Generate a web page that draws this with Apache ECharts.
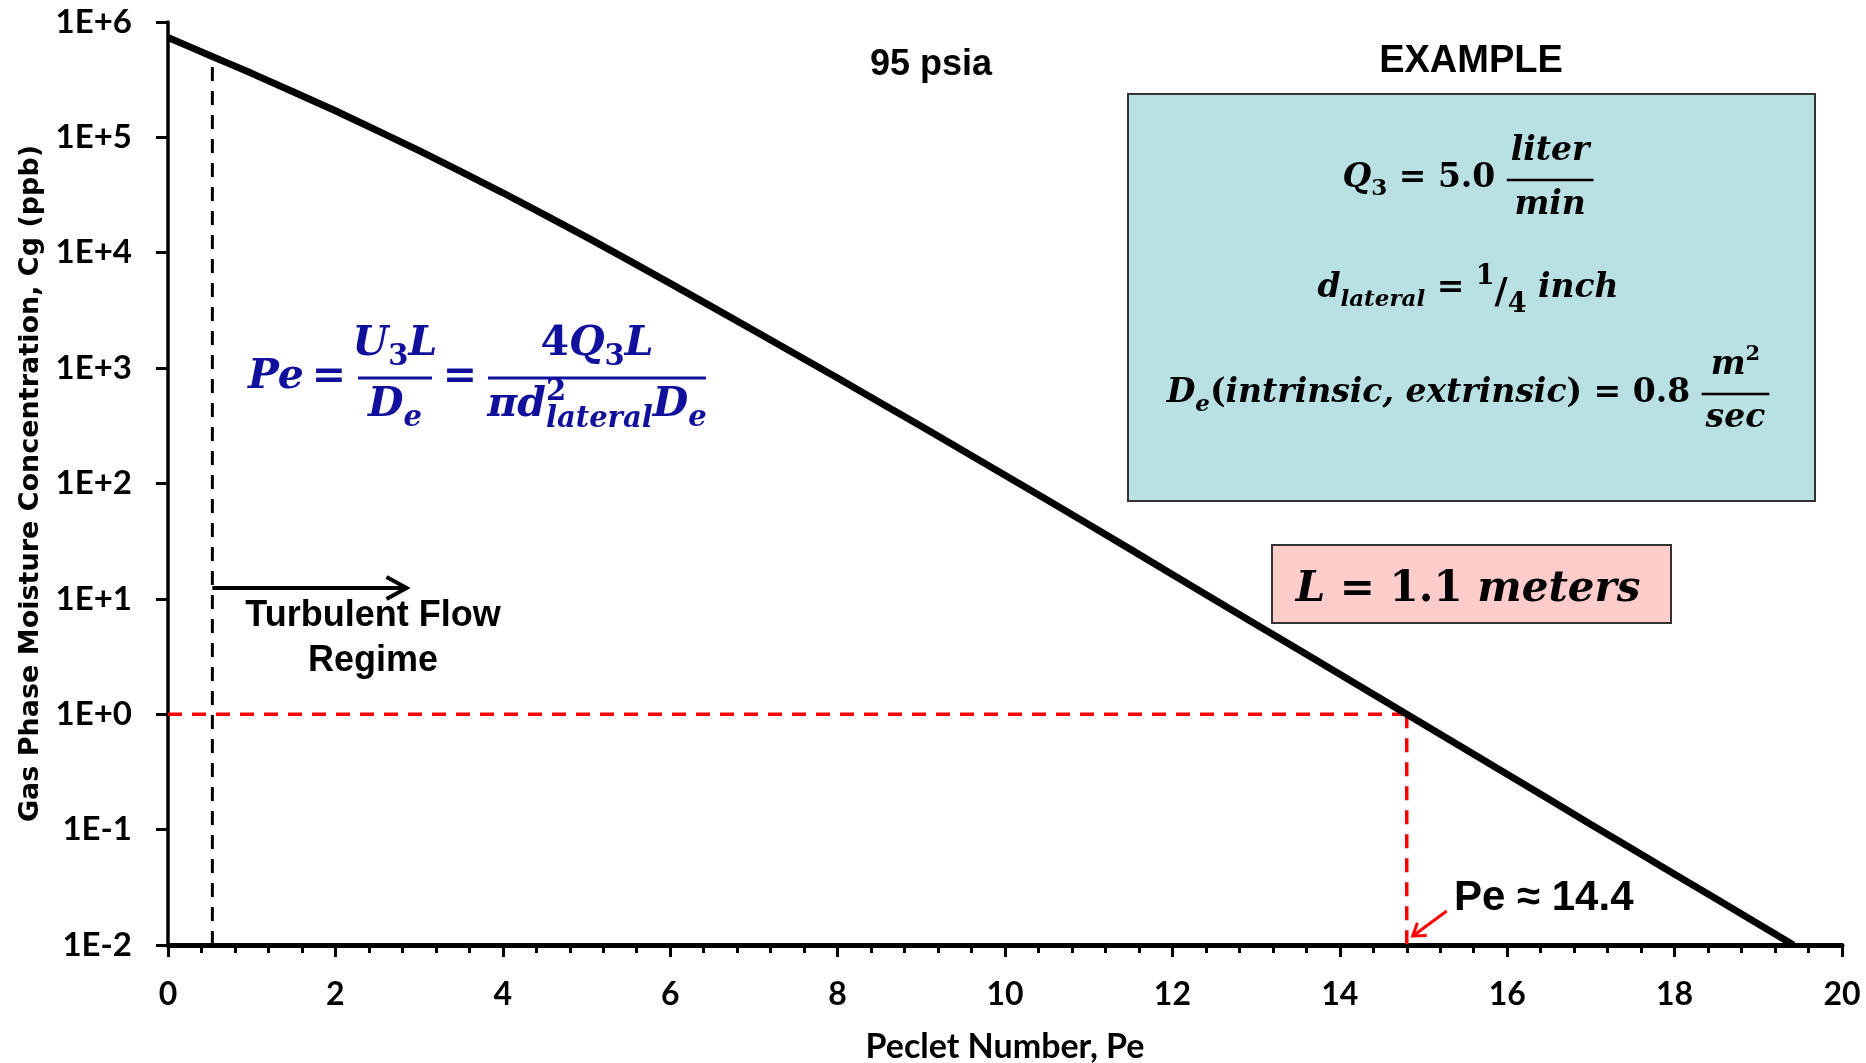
<!DOCTYPE html>
<html>
<head>
<meta charset="utf-8">
<title>Gas Phase Moisture Concentration vs Peclet Number</title>
<script src="https://cdn.jsdelivr.net/npm/echarts@6/dist/echarts.min.js"></script>
<style>
  html, body { margin: 0; padding: 0; background: #ffffff; overflow: hidden; }
  #chart { width: 1866px; height: 1063px; }
</style>
</head>
<body>
<div id="chart"></div>
<script>
// Peclet number along the lateral line
const peclet = [0, 0.5, 1, 2, 3, 4, 5, 6, 7, 8, 9, 10, 11, 12, 13, 14, 14.8, 16, 17, 18, 19, 19.42];
// Gas phase moisture concentration Cg (ppb) at each Peclet number, 95 psia
const moisturePpb = [733000, 513000, 359000, 170000, 76700, 33100, 13650, 5430, 2120, 820, 313, 118, 44.2, 16.3, 6.01, 2.22, 1.0, 0.302, 0.111, 0.0411, 0.0152, 0.01];
// Decade labels of the logarithmic concentration axis, from 1E-2 upwards
const yTickLabels = ['1E-2', '1E-1', '1E+0', '1E+1', '1E+2', '1E+3', '1E+4', '1E+5', '1E+6'];
// Onset of the turbulent flow regime: Peclet number and the top of its marker line
const turbulentOnset = [0.53, 500000];
// Extent of the "turbulent flow" arrow: [Pe start, Pe end, Cg level]
const turbulentArrow = [0.53, 2.85, 12.4];
// Operating point: [Pe, Cg ppb]
const targetPoint = [14.8, 1];

const chart = echarts.init(document.getElementById('chart'), null, { renderer: 'canvas', width: 1866, height: 1063 });

const DASH = [14, 10];
const LABEL_FONT = "Lato, 'Liberation Sans', sans-serif";
const yMin = 0.01, yMax = 1e6;

chart.setOption({
  animation: false,
  backgroundColor: '#ffffff',
  grid: { left: 168, right: 24, top: 22, bottom: 118, containLabel: false, outerBoundsMode: 'none' },
  xAxis: {
    type: 'value', min: 0, max: 20, interval: 2,
    name: 'Peclet Number, Pe', nameLocation: 'middle', nameGap: 85,
    nameTextStyle: { fontFamily: LABEL_FONT, fontWeight: 'bold', fontSize: 34, color: '#000' },
    axisLine: { show: true, onZero: false, lineStyle: { color: '#000', width: 5 } },
    axisTick: { show: true, inside: false, length: 12, lineStyle: { color: '#000', width: 3 } },
    minorTick: { show: true, splitNumber: 5, length: 8, lineStyle: { color: '#000', width: 3 } },
    axisLabel: { margin: 34, fontFamily: LABEL_FONT, fontWeight: 'bold', fontSize: 32, color: '#000' },
    splitLine: { show: false }, minorSplitLine: { show: false }
  },
  yAxis: {
    type: 'log', logBase: 10, min: yMin, max: yMax, splitNumber: 8,
    name: 'Gas Phase Moisture Concentration, Cg (ppb)', nameLocation: 'middle', nameGap: 122, nameRotate: 90,
    nameTextStyle: { fontFamily: "'DejaVu Sans', Verdana, sans-serif", fontWeight: 'bold', fontSize: 27, color: '#000' },
    axisLine: { show: true, onZero: false, lineStyle: { color: '#000', width: 3.5 } },
    axisTick: { show: true, inside: false, length: 12, lineStyle: { color: '#000', width: 3 } },
    axisLabel: {
      margin: 36, fontFamily: LABEL_FONT, fontWeight: 'bold', fontSize: 33, color: '#000',
      formatter: v => yTickLabels[Math.round(Math.log10(v)) + 2] || ''
    },
    splitLine: { show: false }
  },
  series: [
    {
      name: 'Turbulent onset', type: 'line', symbol: 'none', silent: true, z: 3,
      data: [[turbulentOnset[0], yMin], [turbulentOnset[0], turbulentOnset[1]]],
      lineStyle: { color: '#000', width: 3, type: DASH }
    },
    {
      name: 'Target Cg', type: 'line', symbol: 'none', silent: true, z: 3,
      data: [[0, targetPoint[1]], [targetPoint[0], targetPoint[1]]],
      lineStyle: { color: '#ff0000', width: 3.5, type: DASH }
    },
    {
      name: 'Target Pe', type: 'line', symbol: 'none', silent: true, z: 3,
      data: [[targetPoint[0], targetPoint[1]], [targetPoint[0], yMin]],
      lineStyle: { color: '#ff0000', width: 3.5, type: DASH }
    },
    {
      name: 'Cg', type: 'line', symbol: 'none', smooth: 0.2, z: 5,
      data: peclet.map((x, i) => [x, moisturePpb[i]]),
      lineStyle: { color: '#000', width: 7 }
    }
  ]
});

// ---- text layout helpers for the equations ----
const measureCtx = document.createElement('canvas').getContext('2d');
const MATH_FAM = "'DejaVu Serif', 'Liberation Serif', serif";
function fontOf(r) {
  return (r.it ? 'italic ' : 'normal ') + (r.bold === false ? 'normal ' : 'bold ') + r.size + 'px ' + (r.fam || MATH_FAM);
}
function runWidth(r) { measureCtx.font = fontOf(r); return measureCtx.measureText(r.t).width; }
function textEl(x, baseline, r, color) {
  return {
    type: 'text', silent: true, z: 20,
    style: {
      text: r.t, x: x, y: baseline + (r.dy || 0) - 0.34 * r.size, font: fontOf(r), fill: color,
      align: 'left', verticalAlign: 'middle', textAlign: 'left', textVerticalAlign: 'middle'
    }
  };
}
function runsWidth(runs) {
  let w = 0;
  runs.forEach(r => { w += r.stack ? Math.max(runWidth(r.sup), runWidth(r.sub)) : runWidth(r); });
  return w;
}
function placeRuns(out, x, baseline, runs, color) {
  runs.forEach(r => {
    if (r.stack) {
      out.push(textEl(x, baseline, r.sup, color));
      out.push(textEl(x, baseline, r.sub, color));
      x += Math.max(runWidth(r.sup), runWidth(r.sub));
    } else {
      out.push(textEl(x, baseline, r, color));
      x += runWidth(r);
    }
  });
  return x;
}
function fracWidth(f) { return Math.max(runsWidth(f.num), runsWidth(f.den)) + 2 * (f.pad || 4); }
function placeFrac(out, x, baseline, f, color) {
  const w = fracWidth(f), cx = x + w / 2;
  placeRuns(out, cx - runsWidth(f.num) / 2, baseline + f.numDy, f.num, color);
  placeRuns(out, cx - runsWidth(f.den) / 2, baseline + f.denDy, f.den, color);
  out.push({ type: 'line', silent: true, z: 20, shape: { x1: x, y1: baseline + f.barDy, x2: x + w, y2: baseline + f.barDy },
             style: { stroke: color, lineWidth: f.barW || 2.5 } });
  return x + w;
}
// lay out a row of runs and fractions centred on cx
function mathLine(out, cx, baseline, atoms, color) {
  let total = 0;
  atoms.forEach(a => { total += a.frac ? fracWidth(a) : runsWidth([a]); });
  let x = cx - total / 2;
  atoms.forEach(a => { x = a.frac ? placeFrac(out, x, baseline, a, color) : placeRuns(out, x, baseline, [a], color); });
}

function buildGraphics() {
  const g = [];
  const px = p => chart.convertToPixel({ gridIndex: 0 }, p);

  // headings
  g.push({ type: 'text', silent: true, z: 20, style: { text: '95 psia', x: 931, y: 65, font: "bold 36px 'Liberation Sans', Arial, sans-serif", fill: '#000',
           align: 'center', verticalAlign: 'middle', textAlign: 'center', textVerticalAlign: 'middle' } });
  g.push({ type: 'text', silent: true, z: 20, style: { text: 'EXAMPLE', x: 1471, y: 62, font: "bold 38px 'Liberation Sans', Arial, sans-serif", fill: '#000',
           align: 'center', verticalAlign: 'middle', textAlign: 'center', textVerticalAlign: 'middle' } });

  // example parameter box
  g.push({ type: 'rect', silent: true, z: 15, shape: { x: 1128, y: 94, width: 687, height: 407 },
           style: { fill: '#b9e0e3', stroke: '#333333', lineWidth: 2 } });
  const S = 33, s = 23, ink = '#000';
  mathLine(g, 1468, 190, [
    { t: 'Q', it: true, size: S }, { t: '3', size: s, dy: 7 }, { t: ' = 5.0 ', size: S },
    { frac: true, num: [{ t: 'liter', it: true, size: S }], den: [{ t: 'min', it: true, size: S }], numDy: -27, denDy: 27, barDy: -10 }
  ], ink);
  mathLine(g, 1468, 300, [
    { t: 'd', it: true, size: S }, { t: 'lateral', it: true, size: s, dy: 8 }, { t: ' = ', size: S },
    { t: '1', size: 27, dy: -14 }, { t: '/', size: 36, dy: 6 }, { t: '4', size: 27, dy: 14 }, { t: ' ', size: S },
    { t: 'inch', it: true, size: S }
  ], ink);
  mathLine(g, 1468, 405, [
    { t: 'D', it: true, size: S }, { t: 'e', it: true, size: s, dy: 8 }, { t: '(', size: S },
    { t: 'intrinsic, extrinsic', it: true, size: S }, { t: ')', size: S }, { t: ' = 0.8 ', size: S },
    { frac: true, num: [{ t: 'm', it: true, size: S }, { t: '2', size: 21, dy: -15 }], den: [{ t: 'sec', it: true, size: S }], numDy: -28, denDy: 25, barDy: -11 }
  ], ink);

  // length of the lateral
  g.push({ type: 'rect', silent: true, z: 15, shape: { x: 1272, y: 545, width: 399, height: 78 },
           style: { fill: '#ffcccc', stroke: '#333333', lineWidth: 2 } });
  mathLine(g, 1468, 604, [
    { t: 'L', it: true, size: 42 }, { t: ' = 1.1 ', size: 42 }, { t: 'meters', it: true, size: 42 }
  ], ink);

  // Peclet number definition
  const blue = '#10109c', B = 41, b = 29;
  const centred = (cx, base, runs) => placeRuns(g, cx - runsWidth(runs) / 2, base, runs, blue);
  centred(276, 391, [{ t: 'Pe', it: true, size: B }]);
  centred(329, 391, [{ t: '=', size: B }]);
  centred(395, 358, [{ t: 'U', it: true, size: B }, { t: '3', size: b, dy: 9 }, { t: 'L', it: true, size: B }]);
  centred(395, 419, [{ t: 'D', it: true, size: B }, { t: 'e', it: true, size: b, dy: 9 }]);
  g.push({ type: 'line', silent: true, z: 20, shape: { x1: 358, y1: 378, x2: 432, y2: 378 }, style: { stroke: blue, lineWidth: 3 } });
  centred(460, 391, [{ t: '=', size: B }]);
  centred(597, 358, [{ t: '4', size: B }, { t: 'Q', it: true, size: B }, { t: '3', size: b, dy: 9 }, { t: 'L', it: true, size: B }]);
  centred(597, 419, [{ t: 'πd', it: true, size: B },
                     { stack: true, sup: { t: '2', size: b, dy: -17 }, sub: { t: 'lateral', it: true, size: b, dy: 10 } },
                     { t: 'D', it: true, size: B }, { t: 'e', it: true, size: b, dy: 9 }]);
  g.push({ type: 'line', silent: true, z: 20, shape: { x1: 488, y1: 378, x2: 706, y2: 378 }, style: { stroke: blue, lineWidth: 3 } });

  // turbulent flow arrow and caption
  const a0 = px([turbulentArrow[0], turbulentArrow[2]]), a1 = px([turbulentArrow[1], turbulentArrow[2]]);
  g.push({ type: 'line', silent: true, z: 20, shape: { x1: a0[0], y1: a0[1], x2: a1[0] - 2, y2: a1[1] }, style: { stroke: '#000', lineWidth: 4 } });
  g.push({ type: 'polyline', silent: true, z: 20, shape: { points: [[a1[0] - 20, a1[1] - 11], [a1[0], a1[1]], [a1[0] - 20, a1[1] + 11]] },
           style: { stroke: '#000', lineWidth: 4, fill: null } });
  g.push({ type: 'text', silent: true, z: 20, style: { text: 'Turbulent Flow\nRegime', x: 373, y: 639, lineHeight: 45,
           font: "bold 36px 'Liberation Sans', Arial, sans-serif", fill: '#000',
           align: 'center', verticalAlign: 'middle', textAlign: 'center', textVerticalAlign: 'middle' } });

  // Pe reading with its pointer
  const foot = px([targetPoint[0], yMin]);
  const tip = [foot[0] + 6, foot[1] - 9], tail = [foot[0] + 40, foot[1] - 34];
  const ux = tail[0] - tip[0], uy = tail[1] - tip[1], ul = Math.hypot(ux, uy);
  const arm = (ang) => {
    const c = Math.cos(ang), sn = Math.sin(ang);
    return [tip[0] + 14 * (ux * c - uy * sn) / ul, tip[1] + 14 * (ux * sn + uy * c) / ul];
  };
  g.push({ type: 'line', silent: true, z: 20, shape: { x1: tip[0], y1: tip[1], x2: tail[0], y2: tail[1] }, style: { stroke: '#ff0000', lineWidth: 3 } });
  g.push({ type: 'polyline', silent: true, z: 20, shape: { points: [arm(0.6), tip, arm(-0.6)] }, style: { stroke: '#ff0000', lineWidth: 3, fill: null } });
  g.push({ type: 'text', silent: true, z: 20, style: { text: 'Pe ≈ 14.4', x: 1454, y: 898, font: "bold 42px 'Liberation Sans', Arial, sans-serif", fill: '#000',
           align: 'left', verticalAlign: 'middle', textAlign: 'left', textVerticalAlign: 'middle' } });
  return g;
}

chart.setOption({ graphic: { elements: buildGraphics() } });
</script>
</body>
</html>
